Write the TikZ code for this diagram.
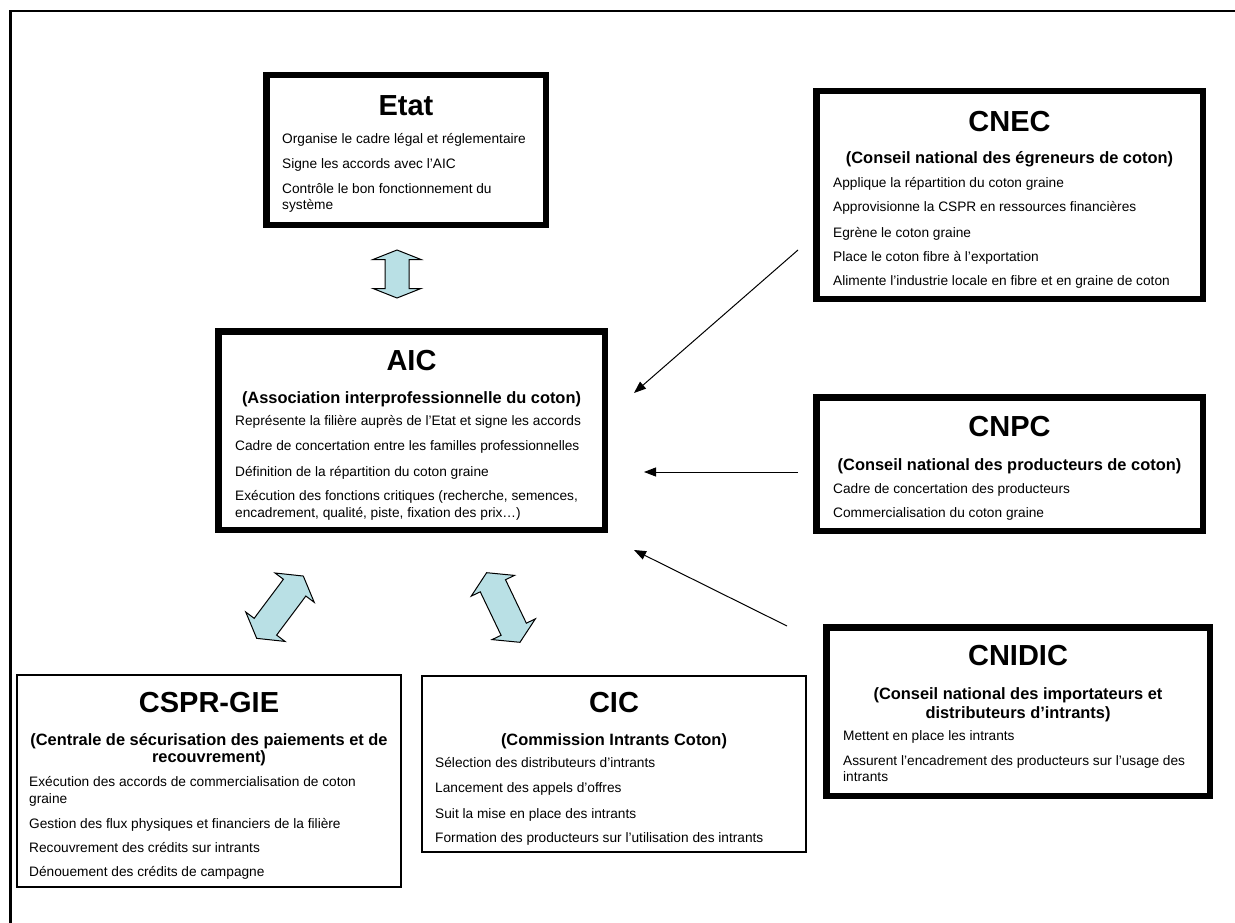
\documentclass[tikz,border=0pt]{standalone}
\usepackage{fontspec}
\setmainfont{Liberation Sans}
\usetikzlibrary{arrows.meta}
\definecolor{arrowblue}{RGB}{185,224,229}
\tikzset{
  thickbox/.style={draw, line width=6.5pt, inner sep=0pt, outer sep=0pt, fill=white},
  thinbox/.style={draw, line width=2pt, inner sep=0pt, outer sep=0pt, fill=white},
  ttl/.style={font=\fontsize{29}{32}\selectfont\bfseries, inner sep=0pt, anchor=base},
  subt/.style={font=\fontsize{16.4}{18}\selectfont\bfseries, inner sep=0pt, anchor=base},
  body/.style={font=\fontsize{13.7}{16}\selectfont, inner sep=0pt, anchor=base west},
  link/.style={line width=1pt, -{Triangle[length=12pt,width=9pt]}},
  blockarrow/.style={draw=black, line width=1pt, fill=arrowblue, line join=miter},
  frameline/.style={line width=2.6pt},
}
\newcommand{\dblarrowshape}[6]{%
  \draw[blockarrow, shift={(#1)}, rotate=#2]
    (#3,0) -- ({#3-#4},#5) -- ({#3-#4},#6) -- ({-#3+#4},#6) -- ({-#3+#4},#5)
    -- ({-#3},0) -- ({-#3+#4},{-#5}) -- ({-#3+#4},{-#6}) -- ({#3-#4},{-#6}) -- ({#3-#4},{-#5}) -- cycle;
}
\begin{document}
\begin{tikzpicture}[x=1pt,y=-1pt]
\useasboundingbox (0,0) rectangle (1235,923);
\fill[white] (0,0) rectangle (1235,923);
\draw[frameline] (10.3,923) -- (10.3,11.2) -- (1235,11.2);

% ---------- boxes ----------
\node[thickbox, minimum width=279.5pt, minimum height=149.5pt] (etat) at (406,150) {};
\node[thickbox, minimum width=386.5pt, minimum height=207.5pt] (cnec) at (1009.5,195) {};
\node[thickbox, minimum width=386.5pt, minimum height=198.5pt] (aic) at (411.5,430.5) {};
\node[thickbox, minimum width=386.5pt, minimum height=133.5pt] (cnpc) at (1009.5,464) {};
\node[thickbox, minimum width=383.5pt, minimum height=168.5pt] (cnidic) at (1018,711.5) {};
\node[thinbox, minimum width=384pt, minimum height=212pt] (cspr) at (209,781) {};
\node[thinbox, minimum width=384pt, minimum height=176pt] (cic) at (614,764) {};

% ---------- Etat ----------
\node[ttl] (etat-t) at (406,115.5) {Etat};
\node[body] (etat-1) at (282,144) {Organise le cadre légal et réglementaire};
\node[body] (etat-2) at (282,168.5) {Signe les accords avec l'AIC};
\node[body] (etat-3) at (282,193.5) {Contrôle le bon fonctionnement du};
\node[body] (etat-3b) at (282,210) {système};

% ---------- CNEC ----------
\node[ttl] (cnec-t) at (1009.5,131.5) {CNEC};
\node[subt] (cnec-s) at (1009.5,164) {(Conseil national des égreneurs de coton)};
\node[body] (cnec-1) at (833,187) {Applique la répartition du coton graine};
\node[body] (cnec-2) at (833,211.5) {Approvisionne la CSPR en ressources financières};
\node[body] (cnec-3) at (833,237) {Egrène le coton graine};
\node[body] (cnec-4) at (833,261) {Place le coton fibre à l'exportation};
\node[body] (cnec-5) at (833,285.5) {Alimente l'industrie locale en fibre et en graine de coton};

% ---------- AIC ----------
\node[ttl] (aic-t) at (411.5,370.5) {AIC};
\node[subt] (aic-s) at (411.5,403) {(Association interprofessionnelle du coton)};
\node[body] (aic-1) at (235,425.5) {Représente la filière auprès de l'Etat et signe les accords};
\node[body] (aic-2) at (235,450.5) {Cadre de concertation entre les familles professionnelles};
\node[body] (aic-3) at (235,476) {Définition de la répartition du coton graine};
\node[body] (aic-4) at (235,500.5) {Exécution des fonctions critiques (recherche, semences,};
\node[body] (aic-4b) at (235,517) {encadrement, qualité, piste, fixation des prix…)};

% ---------- CNPC ----------
\node[ttl] (cnpc-t) at (1009.5,436.5) {CNPC};
\node[subt] (cnpc-s) at (1009.5,470) {(Conseil national des producteurs de coton)};
\node[body] (cnpc-1) at (833,493) {Cadre de concertation des producteurs};
\node[body] (cnpc-2) at (833,517.5) {Commercialisation du coton graine};

% ---------- CNIDIC ----------
\node[ttl] (cnidic-t) at (1018,665.5) {CNIDIC};
\node[subt] (cnidic-s) at (1018,699) {(Conseil national des importateurs et};
\node[subt] (cnidic-sb) at (1018,718) {distributeurs d'intrants)};
\node[body] (cnidic-1) at (843,740.5) {Mettent en place les intrants};
\node[body] (cnidic-2) at (843,765.5) {Assurent l'encadrement des producteurs sur l'usage des};
\node[body] (cnidic-2b) at (843,781.5) {intrants};

% ---------- CSPR-GIE ----------
\node[ttl] (cspr-t) at (209,712.5) {CSPR-GIE};
\node[subt] (cspr-s) at (209,745) {(Centrale de sécurisation des paiements et de};
\node[subt] (cspr-sb) at (209,762) {recouvrement)};
\node[body] (cspr-1) at (29,786.5) {Exécution des accords de commercialisation de coton};
\node[body] (cspr-1b) at (29,803.5) {graine};
\node[body] (cspr-2) at (29,828) {Gestion des flux physiques et financiers de la filière};
\node[body] (cspr-3) at (29,852.5) {Recouvrement des crédits sur intrants};
\node[body] (cspr-4) at (29,876.5) {Dénouement des crédits de campagne};

% ---------- CIC ----------
\node[ttl] (cic-t) at (614,712.5) {CIC};
\node[subt] (cic-s) at (614,745) {(Commission Intrants Coton)};
\node[body] (cic-1) at (435,767.5) {Sélection des distributeurs d'intrants};
\node[body] (cic-2) at (435,792.5) {Lancement des appels d'offres};
\node[body] (cic-3) at (435,818) {Suit la mise en place des intrants};
\node[body] (cic-4) at (435,842.5) {Formation des producteurs sur l'utilisation des intrants};

% ---------- thin arrows to AIC ----------
\coordinate (cnec-out) at (798,250);
\coordinate (aic-in1) at (634,393);
\coordinate (cnpc-out) at (798,472);
\coordinate (aic-in2) at (644,472);
\coordinate (cnidic-out) at (787,626);
\coordinate (aic-in3) at (634,550);
\draw[link] (cnec-out) -- (aic-in1);
\draw[link] (cnpc-out) -- (aic-in2);
\draw[link] (cnidic-out) -- (aic-in3);

% ---------- block double arrows ----------
\dblarrowshape{397,274}{90}{24}{9.5}{24}{12}
\dblarrowshape{280,607.2}{53.2}{38.9}{14.5}{24.5}{14}
\dblarrowshape{503.3,607.5}{-64.4}{38.6}{14.5}{24}{14}
\end{tikzpicture}
\end{document}
